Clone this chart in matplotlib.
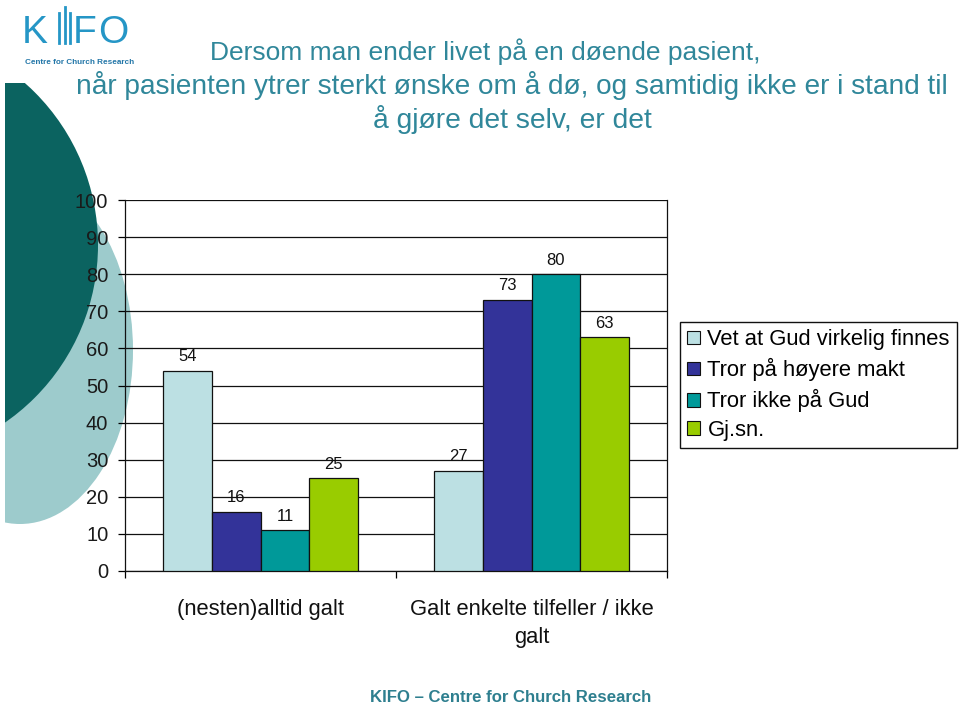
import matplotlib
matplotlib.use("Agg")
import matplotlib.pyplot as plt
from matplotlib.patches import Ellipse, Circle, Rectangle
from matplotlib.lines import Line2D
import numpy as np

plt.rcParams['font.family'] = ['Liberation Sans', 'DejaVu Sans']

categories = ["(nesten)alltid galt", "Galt enkelte tilfeller / ikke\ngalt"]
series_names = ["Vet at Gud virkelig finnes", "Tror på høyere makt", "Tror ikke på Gud", "Gj.sn."]
values = {
    "Vet at Gud virkelig finnes": [54, 27],
    "Tror på høyere makt": [16, 73],
    "Tror ikke på Gud": [11, 80],
    "Gj.sn.": [25, 63],
}
colors = ["#BCE0E3", "#333399", "#009999", "#99CC00"]
yticks = [0, 10, 20, 30, 40, 50, 60, 70, 80, 90, 100]
title_lines = ["Dersom man ender livet på en døende pasient,",
               "når pasienten ytrer sterkt ønske om å dø, og samtidig ikke er i stand til",
               "å gjøre det selv, er det"]
footer = "KIFO – Centre for Church Research"

W, H = 960, 709
fig = plt.figure(figsize=(W / 100, H / 100), dpi=100)

# background decoration axes (pixel coordinates)
bg = fig.add_axes([0, 0, 1, 1])
bg.set_xlim(0, W)
bg.set_ylim(H, 0)
bg.axis('off')
bg.add_patch(Ellipse((20, 350), 226, 348, color="#9DCBCC", zorder=1, lw=0))
bg.add_patch(Circle((-118, 245), 216, color="#0B6360", zorder=2, lw=0))
bg.add_patch(Rectangle((0, 0), 140, 83, color="white", zorder=3, lw=0))
bg.add_patch(Rectangle((0, 0), 5, H, color="white", zorder=3, lw=0))

# logo
logo_c = "#2596C6"
bg.text(22, 43, "K", fontsize=28, color=logo_c, ha='left', va='baseline', zorder=5)
for xx, top in [(59, 13), (64.5, 7), (70, 13)]:
    bg.add_line(Line2D([xx, xx], [top, 43], color=logo_c, lw=2.0, zorder=5))
bg.text(73, 43, "F", fontsize=28, color=logo_c, ha='left', va='baseline', zorder=5)
bg.text(98, 43, "O", fontsize=28, color=logo_c, ha='left', va='baseline', zorder=5)
bg.text(25, 64, "Centre for Church Research", fontsize=5.9, color="#2276A8",
        fontweight='bold', ha='left', va='baseline', zorder=5)

# title
tcol = "#30879A"
for txt, xc, yc, fs in zip(title_lines, [485, 512, 512], [52, 85, 120], [19.0, 20.2, 20.3]):
    bg.text(xc, yc, txt, fontsize=fs, color=tcol, ha='center', va='center', zorder=5)
# footer
bg.text(511, 698, footer, fontsize=12.1, color="#2E7F8F", fontweight='bold',
        ha='center', va='center', zorder=5)

# chart axes
ax = fig.add_axes([125 / W, 1 - 571 / H, (667 - 125) / W, (571 - 200) / H])
ax.set_facecolor('none')
ax.set_zorder(3)
x = np.arange(len(categories))
bw = 0.18
n = len(series_names)
for i, (name, col) in enumerate(zip(series_names, colors)):
    offs = (i - (n - 1) / 2) * bw
    vals = values[name]
    ax.bar(x + offs, vals, bw, color=col, edgecolor='#111111', linewidth=0.9,
           label=name, zorder=3)
    for xi, v in zip(x + offs, vals):
        ax.text(xi, v + 1.8, f"{v}", ha='center', va='bottom', fontsize=12, color='#111111', zorder=4)

ax.set_xlim(-0.5, 1.5)
ax.set_ylim(0, 100)
ax.set_yticks(yticks)
ax.set_yticklabels([str(t) for t in yticks], fontsize=14.5, color='#1a1a1a')
ax.yaxis.grid(True, color='#111111', linewidth=0.9, zorder=0)
ax.set_axisbelow(True)
ax.tick_params(axis='y', direction='out', length=5, width=0.9, pad=7)
ax.set_xticks([-0.5, 0.5, 1.5])
ax.set_xticklabels(['', '', ''])
ax.tick_params(axis='x', which='major', direction='out', length=5, width=0.9)
ax.set_xticks(x, minor=True)
ax.set_xticklabels(categories, minor=True, fontsize=15.8, color='#111111', va='top',
                   linespacing=1.47)
ax.tick_params(axis='x', which='minor', length=0, pad=20)
for s in ['left', 'bottom', 'right']:
    ax.spines[s].set_color('#111111')
    ax.spines[s].set_linewidth(0.9)
ax.spines['top'].set_visible(False)

leg = fig.legend(loc='upper left', bbox_to_anchor=(680 / W, 1 - 322 / H), fontsize=15.8,
                 frameon=True, fancybox=False, edgecolor='#111111', handlelength=0.6,
                 handleheight=0.6, handletextpad=0.32, labelspacing=0.36, borderpad=0.33,
                 borderaxespad=0, framealpha=1)
leg.get_frame().set_linewidth(1.0)
for h in leg.legend_handles:
    h.set_linewidth(0.8)

fig.savefig("out.png", dpi=100)
